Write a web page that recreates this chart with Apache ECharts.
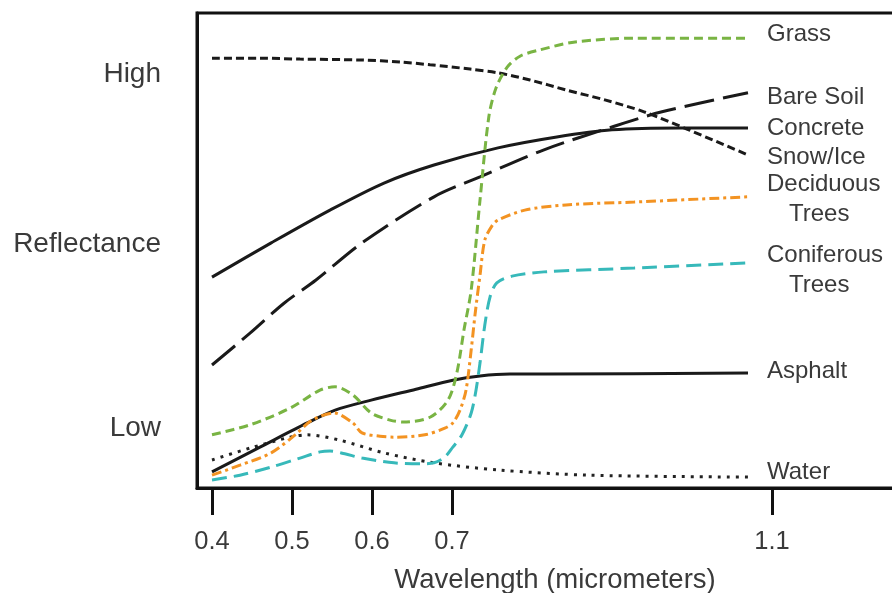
<!DOCTYPE html>
<html>
<head>
<meta charset="utf-8">
<script src="https://cdn.jsdelivr.net/npm/echarts@6/dist/echarts.min.js"></script>
<style>html,body{margin:0;padding:0;background:#fff;}#c{width:892px;height:593px;}</style>
</head>
<body>
<div id="c"></div>
<script>
// Wavelength (micrometers) vs relative reflectance (0 = low, 100 = high)
const xTicks = [0.4, 0.5, 0.6, 0.7, 1.1];
const yLabelNames = ['Low', 'Reflectance', 'High'];
const yLabelValues = [12.6, 51.3, 87.2];

const grass = [[0.400,11.2],[0.4475,13.3],[0.4975,16.8],[0.535,20.6],[0.554,21.3],[0.576,19.6],[0.599,15.8],[0.6225,14.3],[0.639,13.9],[0.6725,14.9],[0.695,18.5],[0.706,24.2],[0.715,33.3],[0.724,41.7],[0.735,60.6],[0.746,78.1],[0.755,84.2],[0.769,88.6],[0.785,90.9],[0.809,92.2],[0.854,93.9],[0.9275,94.7],[1.07,94.7]];
const bareSoil = [[0.4,25.9],[0.4475,32.6],[0.49,38.9],[0.53,43.8],[0.5875,51.6],[0.6775,61.3],[0.735,65.5],[0.815,71.2],[0.90,76.0],[0.9625,79.2],[1.07,83.2]];
const concrete = [[0.4,44.4],[0.474,51.6],[0.5475,58.5],[0.615,64.2],[0.6775,68.0],[0.7575,71.6],[0.831,73.9],[0.90,75.4],[0.985,75.8],[1.07,75.8]];
const snowIce = [[0.4,90.5],[0.46,90.5],[0.51,90.3],[0.5875,90.1],[0.635,89.7],[0.6725,89.1],[0.7225,88.2],[0.7575,87.4],[0.7975,85.9],[0.8425,83.8],[0.891,81.7],[0.94,79.2],[0.996,75.4],[1.07,70.1]];
const deciduous = [[0.4,2.7],[0.435,4.8],[0.474,7.4],[0.504,11.2],[0.525,14.3],[0.5525,15.8],[0.576,13.7],[0.5875,11.6],[0.61,10.9],[0.6275,10.7],[0.666,11.2],[0.691,12.6],[0.701,13.7],[0.71,16.4],[0.7175,20.6],[0.724,29.1],[0.729,36.8],[0.735,44.8],[0.741,52.2],[0.75,55.2],[0.7575,56.4],[0.791,58.5],[0.8425,59.6],[0.9275,60.2],[1.07,61.3]];
const coniferous = [[0.4,1.7],[0.435,2.7],[0.474,4.4],[0.51,6.3],[0.535,7.6],[0.5475,7.8],[0.566,7.2],[0.5875,6.3],[0.6275,5.3],[0.66,5.1],[0.6775,5.3],[0.691,6.5],[0.701,8.6],[0.7125,11.2],[0.724,15.8],[0.73,20.6],[0.735,26.3],[0.741,34.3],[0.7475,40.2],[0.756,43.2],[0.775,44.6],[0.815,45.5],[0.9275,46.3],[1.07,47.4]];
const asphalt = [[0.4,3.4],[0.46,8.6],[0.519,13.7],[0.554,16.4],[0.599,18.5],[0.655,20.8],[0.701,22.7],[0.735,23.6],[0.7725,24.0],[0.8175,24.0],[1.07,24.2]];
const water = [[0.4,5.9],[0.4475,8.4],[0.4975,10.7],[0.519,11.2],[0.559,10.1],[0.615,7.4],[0.6775,5.3],[0.7575,3.8],[0.871,2.7],[1.07,2.3]];

const FONT = '"Liberation Sans", Arial, Helvetica, sans-serif';
const TXT = '#3a3a3a';

function mk(name, data, color, dash, dy, label) {
  return {
    name: name, type: 'line', data: data, showSymbol: false, smooth: 0.3,
    lineStyle: { color: color, width: 3, type: dash },
    endLabel: {
      show: true, distance: 19, offset: [0, dy],
      formatter: label || name,
      color: TXT, fontSize: 24, fontFamily: FONT,
      rich: {
        a: { color: TXT, fontSize: 24, fontFamily: FONT, lineHeight: 30 },
        b: { color: TXT, fontSize: 24, fontFamily: FONT, lineHeight: 30, padding: [0, 0, 0, 22] }
      }
    },
    emphasis: { disabled: true }
  };
}

const chart = echarts.init(document.getElementById('c'), null, { renderer: 'canvas' });
chart.setOption({
  animation: false,
  backgroundColor: '#fff',
  grid: { left: 197, top: 13, right: -5, bottom: 105, show: true, borderColor: '#111', borderWidth: 3,
          backgroundColor: 'transparent', containLabel: false, outerBoundsMode: 'none' },
  xAxis: {
    type: 'value', min: 0.38125, max: 1.25625,
    name: 'Wavelength (micrometers)', nameLocation: 'middle', nameGap: 78,
    nameTextStyle: { color: TXT, fontSize: 27.5, fontFamily: FONT, padding: [0, 0, 0, 16] },
    axisLine: { show: true, lineStyle: { color: '#111', width: 3 } },
    axisTick: { show: true, customValues: xTicks, length: 27, lineStyle: { color: '#111', width: 3 } },
    axisLabel: { customValues: xTicks, margin: 41, color: TXT, fontSize: 25.5, fontFamily: FONT, formatter: v => v.toFixed(1) },
    splitLine: { show: false }
  },
  yAxis: {
    type: 'value', min: 0, max: 100,
    axisLine: { show: true, lineStyle: { color: '#111', width: 3 } },
    axisTick: { show: false },
    axisLabel: { customValues: yLabelValues, margin: 36, color: TXT, fontSize: 28, fontFamily: FONT,
      formatter: (v, i) => yLabelNames[yLabelValues.indexOf(v)] },
    splitLine: { show: false }
  },
  series: [
    mk('Water', water, '#222', [3, 6], -5),
    mk('Asphalt', asphalt, '#1a1a1a', 'solid', -2),
    mk('Coniferous Trees', coniferous, '#37b9ba', [15, 7], 8, '{a|Coniferous}\n{b|Trees}'),
    mk('Deciduous Trees', deciduous, '#f39322', [10, 4, 3, 4], 3, '{a|Deciduous}\n{b|Trees}'),
    mk('Concrete', concrete, '#1a1a1a', 'solid', 0),
    mk('Bare Soil', bareSoil, '#1a1a1a', [30, 9], 5),
    mk('Snow/Ice', snowIce, '#1a1a1a', [8, 4], 2),
    mk('Grass', grass, '#79b443', [9, 5], -4)
  ]
});
</script>
</body>
</html>
